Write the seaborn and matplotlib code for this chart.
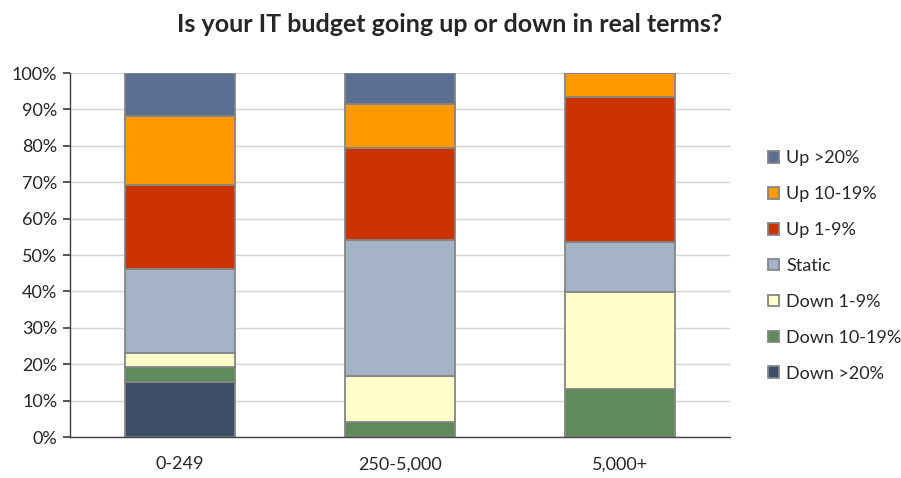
import pandas as pd
import numpy as np
import matplotlib
matplotlib.use("Agg")
import matplotlib.pyplot as plt
import seaborn as sns
from matplotlib.patches import Patch
from matplotlib.ticker import FixedLocator

# Data (share of respondents, %)
company_sizes = ["0-249", "250-5,000", "5,000+"]
responses = ["Up >20%", "Up 10-19%", "Up 1-9%", "Static",
             "Down 1-9%", "Down 10-19%", "Down >20%"]
up_20 = [11.7, 8.5, 0.0]
up_10_19 = [19.1, 12.2, 6.6]
up_1_9 = [23.1, 25.3, 39.8]
static = [22.9, 37.3, 13.7]
down_1_9 = [3.9, 12.7, 26.7]
down_10_19 = [4.3, 4.0, 13.2]
down_20 = [15.0, 0.0, 0.0]

colors = ["#5A6E8F", "#FF9900", "#CC3300", "#A5B3C6",
          "#FFFFCC", "#5F8A5B", "#3E4E66"]

series = [up_20, up_10_19, up_1_9, static, down_1_9, down_10_19, down_20]
rows = []
for resp, vals in zip(responses, series):
    for size, v in zip(company_sizes, vals):
        rows.append({"size": size, "response": resp, "pct": v})
df = pd.DataFrame(rows)
df["pos"] = df["size"].map({s: i for i, s in enumerate(company_sizes)})

sns.set_theme(style="white")
plt.rcParams["font.family"] = ["Lato", "DejaVu Sans"]

fig = plt.figure(figsize=(9.01, 4.78), dpi=100)
ax = fig.add_axes([70 / 901, 1 - 437 / 478, 660 / 901, 364 / 478])

# last hue level ends up at the bottom of the stack
sns.histplot(data=df, x="pos", weights="pct", hue="response",
             hue_order=responses, palette=colors, multiple="stack",
             discrete=True, shrink=0.5, alpha=1, edgecolor="#858585",
             linewidth=1.3, legend=False, ax=ax)

ax.set_xlim(-0.5, 2.5)
ax.set_ylim(0, 100)
ax.set_xticks(range(len(company_sizes)))
ax.set_xticklabels(company_sizes, fontsize=13)
ax.xaxis.set_minor_locator(FixedLocator([-0.5, 0.5, 1.5, 2.5]))
ax.tick_params(axis="x", which="major", length=0, pad=14)
ax.tick_params(axis="x", which="minor", length=5, color="#404040", direction="out")
ax.set_yticks(np.arange(0, 101, 10))
ax.set_yticklabels([f"{t}%" for t in range(0, 101, 10)], fontsize=13)
ax.tick_params(axis="y", length=5, color="#404040", direction="out", left=True, pad=4)
ax.set_xlabel("")
ax.set_ylabel("")

ax.yaxis.grid(True, color="#D4D4D4", linewidth=1)
ax.set_axisbelow(True)
for s in ["top", "right"]:
    ax.spines[s].set_visible(False)
ax.spines["left"].set_color("#404040")
ax.spines["bottom"].set_color("#404040")
ax.spines["left"].set_linewidth(1)
ax.spines["bottom"].set_linewidth(1)

handles = [Patch(facecolor=c, edgecolor="#858585", linewidth=1.3, label=r)
           for r, c in zip(responses, colors)]
fig.legend(handles=handles, loc="center left", bbox_to_anchor=(752 / 901, 1 - 266 / 478),
           frameon=False, fontsize=13, labelspacing=1.1, handlelength=0.6,
           handleheight=0.6, handletextpad=0.4)

fig.text(450 / 901, 1 - 25 / 478, "Is your IT budget going up or down in real terms?",
         ha="center", va="center", fontsize=18, fontweight="bold")

fig.savefig("out.png", dpi=100)
